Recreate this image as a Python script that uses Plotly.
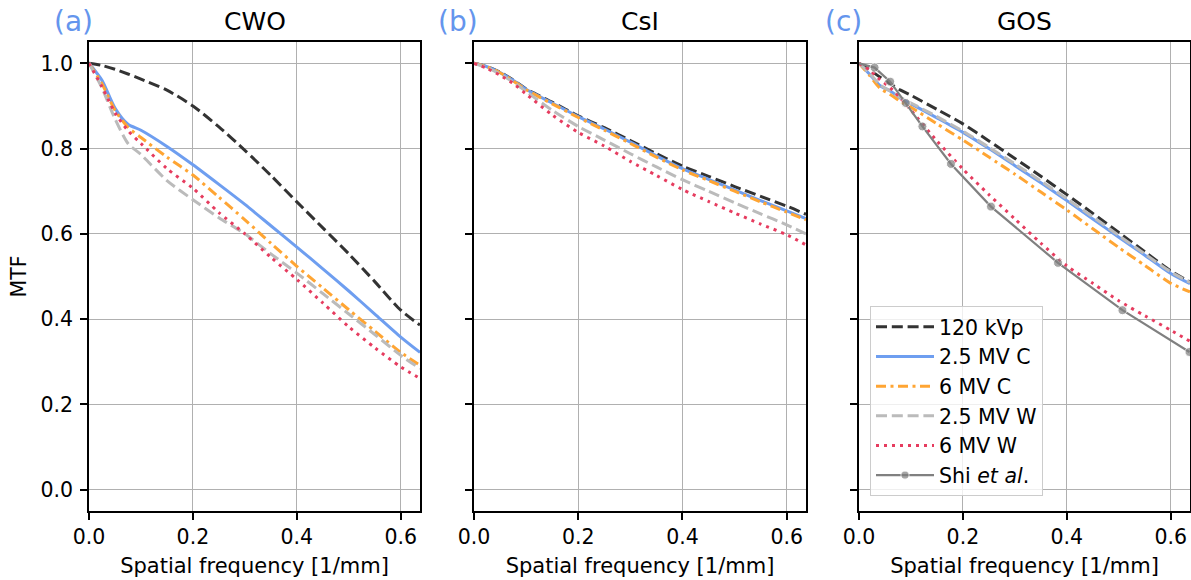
import plotly.graph_objects as go

# ---------------- data ----------------
x_grid = [0, 0.025, 0.05, 0.075, 0.1, 0.15, 0.2, 0.25, 0.3, 0.35, 0.4, 0.45, 0.5, 0.55, 0.6, 0.637]

# (a) CWO
cwo_120kvp = [1.0, 0.995, 0.986, 0.975, 0.963, 0.937, 0.9, 0.851, 0.796, 0.737, 0.675, 0.614, 0.553, 0.488, 0.421, 0.386]
cwo_25c = [1.0, 0.96, 0.895, 0.857, 0.843, 0.805, 0.762, 0.716, 0.669, 0.619, 0.569, 0.518, 0.466, 0.412, 0.358, 0.322]
cwo_6c = [1.0, 0.952, 0.89, 0.85, 0.826, 0.78, 0.738, 0.686, 0.633, 0.578, 0.524, 0.473, 0.422, 0.372, 0.322, 0.292]
cwo_25w = [1.0, 0.942, 0.87, 0.812, 0.786, 0.725, 0.68, 0.638, 0.6, 0.553, 0.508, 0.46, 0.412, 0.364, 0.315, 0.284]
cwo_6w = [1.0, 0.945, 0.884, 0.842, 0.812, 0.753, 0.707, 0.65, 0.6, 0.545, 0.493, 0.438, 0.382, 0.333, 0.288, 0.261]

# (b) CsI
csi_120kvp = [1.0, 0.992, 0.979, 0.961, 0.94, 0.909, 0.877, 0.849, 0.819, 0.788, 0.759, 0.735, 0.711, 0.688, 0.665, 0.646]
csi_25c = [1.0, 0.992, 0.978, 0.96, 0.939, 0.907, 0.875, 0.846, 0.815, 0.783, 0.753, 0.728, 0.703, 0.678, 0.654, 0.636]
csi_6c = [1.0, 0.992, 0.978, 0.959, 0.938, 0.905, 0.873, 0.843, 0.812, 0.78, 0.75, 0.725, 0.7, 0.675, 0.651, 0.633]
csi_25w = [1.0, 0.99, 0.975, 0.956, 0.934, 0.89, 0.852, 0.82, 0.788, 0.757, 0.727, 0.7, 0.673, 0.647, 0.621, 0.6]
csi_6w = [1.0, 0.988, 0.972, 0.953, 0.928, 0.879, 0.838, 0.806, 0.77, 0.737, 0.704, 0.676, 0.649, 0.623, 0.598, 0.574]

# (c) GOS
x_gos = [0, 0.02, 0.04, 0.06, 0.08, 0.1, 0.15, 0.2, 0.25, 0.3, 0.35, 0.4, 0.45, 0.5, 0.55, 0.6, 0.637]
gos_120kvp = [1.0, 0.985, 0.968, 0.952, 0.937, 0.925, 0.892, 0.858, 0.818, 0.777, 0.735, 0.692, 0.648, 0.603, 0.558, 0.513, 0.487]
gos_25c = [1.0, 0.975, 0.948, 0.935, 0.918, 0.905, 0.872, 0.838, 0.8, 0.76, 0.72, 0.678, 0.635, 0.592, 0.55, 0.507, 0.483]
gos_6c = [1.0, 0.972, 0.942, 0.927, 0.91, 0.897, 0.858, 0.82, 0.78, 0.74, 0.698, 0.656, 0.612, 0.568, 0.526, 0.484, 0.464]
gos_25w = [1.0, 0.977, 0.95, 0.935, 0.92, 0.907, 0.875, 0.841, 0.803, 0.764, 0.724, 0.682, 0.64, 0.596, 0.553, 0.511, 0.486]
gos_6w = [1.0, 0.985, 0.962, 0.943, 0.918, 0.89, 0.818, 0.752, 0.692, 0.635, 0.578, 0.525, 0.484, 0.443, 0.408, 0.374, 0.348]

shi_x = [0, 0.03, 0.06, 0.09, 0.122, 0.177, 0.254, 0.383, 0.507, 0.636]
shi_y = [1.0, 0.99, 0.957, 0.907, 0.852, 0.764, 0.664, 0.532, 0.421, 0.323]

series_names = ["120 kVp", "2.5 MV C", "6 MV C", "2.5 MV W", "6 MV W"]
panel_titles = ["CWO", "CsI", "GOS"]
panel_letters = ["(a)", "(b)", "(c)"]
x_ticks = [0.0, 0.2, 0.4, 0.6]
y_ticks = [0.0, 0.2, 0.4, 0.6, 0.8, 1.0]

# ---------------- styles ----------------
styles = [
    dict(color="#333333", width=3, dash="11px,4.8px"),
    dict(color="#6e9ef0", width=3, dash="solid"),
    dict(color="#ffa533", width=3, dash="10px,4.5px,3px,4.5px"),
    dict(color="#bbbbbb", width=3, dash="11px,4.8px"),
    dict(color="#e63c5f", width=3, dash="3px,5px"),
]

W, H = 1191, 580
x_domains = [[89 / W, 420 / W], [474 / W, 806 / W], [859 / W, 1190 / W]]
y_domain = [1 - 511 / H, 1 - 42 / H]
FS = 20.5

fig = go.Figure()

panels = [
    (x_grid, [cwo_120kvp, cwo_25c, cwo_6c, cwo_25w, cwo_6w]),
    (x_grid, [csi_120kvp, csi_25c, csi_6c, csi_25w, csi_6w]),
    (x_gos, [gos_120kvp, gos_25c, gos_6c, gos_25w, gos_6w]),
]

for p, (xs, ys_list) in enumerate(panels):
    suffix = "" if p == 0 else str(p + 1)
    for i, ys in enumerate(ys_list):
        fig.add_trace(go.Scatter(
            x=xs, y=ys, mode="lines", name=series_names[i],
            line=dict(**styles[i], shape="spline", smoothing=0.7),
            xaxis="x" + suffix, yaxis="y" + suffix,
            showlegend=(p == 2), legendgroup="g%d" % i,
        ))
    if p == 2:
        fig.add_trace(go.Scatter(
            x=shi_x, y=shi_y, mode="lines+markers", name="Shi <i>et al</i>.",
            line=dict(color="#808080", width=2.2),
            marker=dict(size=[0] + [9] * (len(shi_x) - 1), color="#808080"),
            xaxis="x3", yaxis="y3", showlegend=True, legendgroup="g5",
        ))

font_family = "DejaVu Sans, Verdana, sans-serif"
layout = dict(
    width=W, height=H,
    margin=dict(l=0, r=0, t=0, b=0),
    paper_bgcolor="white", plot_bgcolor="white",
    font=dict(family=font_family, size=FS, color="black"),
    legend=dict(
        x=870 / W, y=1 - 306 / H, xanchor="left", yanchor="top",
        bgcolor="rgba(255,255,255,0.8)", bordercolor="#cccccc", borderwidth=1,
        font=dict(size=FS), tracegroupgap=0, itemwidth=58,
    ),
    showlegend=True,
)

for p in range(3):
    suffix = "" if p == 0 else str(p + 1)
    xa = dict(
        domain=x_domains[p], range=[0, 0.637], anchor="y" + suffix,
        tickvals=x_ticks, tickformat=".1f", ticks="outside", ticklen=7, tickwidth=1.6,
        tickcolor="black", showline=True, linecolor="black", linewidth=1.6, mirror=True,
        showgrid=True, gridcolor="#b0b0b0", gridwidth=1.3, zeroline=False,
        tickfont=dict(size=FS),
        title=dict(text="Spatial frequency [1/mm]", standoff=10, font=dict(size=21)),
        automargin=False,
    )
    ya = dict(
        domain=y_domain, range=[-0.05, 1.05], anchor="x" + suffix,
        tickvals=y_ticks, tickformat=".1f", ticks="outside", ticklen=7, tickwidth=1.6,
        tickcolor="black", showline=True, linecolor="black", linewidth=1.6, mirror=True,
        showgrid=True, gridcolor="#b0b0b0", gridwidth=1.3, zeroline=False,
        tickfont=dict(size=FS), ticklabelstandoff=3,
        showticklabels=(p == 0), automargin=False,
    )
    if p == 0:
        ya["title"] = dict(text="MTF", standoff=8, font=dict(size=FS))
    layout["xaxis" + suffix] = xa
    layout["yaxis" + suffix] = ya

fig.update_layout(**layout)

annotations = []
for p in range(3):
    cx = (x_domains[p][0] + x_domains[p][1]) / 2
    annotations.append(dict(
        text=panel_titles[p], x=cx, y=1 - 21 / H, xref="paper", yref="paper",
        xanchor="center", yanchor="middle", showarrow=False,
        font=dict(size=25, color="black", family=font_family),
    ))
    annotations.append(dict(
        text=panel_letters[p], x=x_domains[p][0] - 16 / W, y=1 - 21 / H,
        xref="paper", yref="paper", xanchor="center", yanchor="middle", showarrow=False,
        font=dict(size=28, color="#6495ed", family=font_family),
    ))
fig.update_layout(annotations=annotations)

fig.write_html("out.html")
